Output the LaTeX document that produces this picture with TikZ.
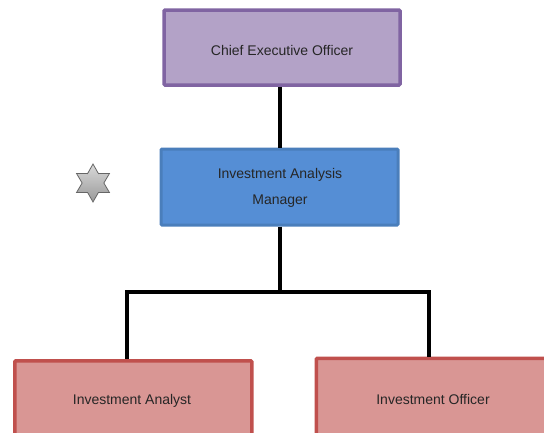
\documentclass[tikz,border=0pt]{standalone}
\usepackage{fontspec}
\setmainfont{Liberation Sans}
\usetikzlibrary{shapes.geometric}
\definecolor{ceofill}{HTML}{B3A2C7}
\definecolor{ceoline}{HTML}{8064A2}
\definecolor{mgrfill}{HTML}{558ED5}
\definecolor{mgrline}{HTML}{4A7EBB}
\definecolor{redfill}{HTML}{D99694}
\definecolor{redline}{HTML}{C0504D}
\tikzset{
  orgbox/.style={draw, line width=3.5pt, rounded corners=1pt, inner sep=0pt},
  ceobox/.style={orgbox, fill=ceofill, draw=ceoline, minimum width=236pt, minimum height=75pt},
  mgrbox/.style={orgbox, fill=mgrfill, draw=mgrline, line width=3pt, minimum width=237pt, minimum height=76pt},
  redbox/.style={orgbox, fill=redfill, draw=redline, minimum width=237pt, minimum height=90pt},
  label/.style={font=\fontsize{14}{26}\selectfont, text=black!85, align=center, inner sep=0pt},
  link/.style={draw=black, line width=4.5pt},
}
\begin{document}
\begin{tikzpicture}[x=1pt,y=1pt]
\useasboundingbox (0,0) rectangle (544,-432);
\clip (0,0) rectangle (544,-432);
\node[ceobox] (ceo) at (282,-47.5) {};
\node[mgrbox] (mgr) at (279.5,-187) {};
\node[redbox, anchor=north west] (ana) at (13,-359) {};
\node[redbox, anchor=north west] (off) at (314.5,-356.5) {};
\node[label] (ceot) at (282,-50) {Chief Executive Officer};
\node[label] (mgrt) at (280,-188) {Investment Analysis\\Manager};
\node[label] (anat) at (132,-401) {Investment Analyst};
\node[label] (offt) at (433,-399) {Investment Officer};
\coordinate (j) at (280,-292);
\coordinate (jl) at (127,-292);
\coordinate (jr) at (429,-292);
\path[link] (ceo.south -| 280,0) -- (mgr.north -| 280,0);
\path[link] (mgr.south -| 280,0) -- (j);
\path[link, line cap=rect] (jl) -- (jr);
\path[link] (jl) -- (jl |- ana.north);
\path[link] (jr) -- (jr |- off.north);
\node[star, star points=6, star point ratio=1.75, minimum size=38pt, inner sep=0pt, draw=gray!80!black, line width=0.8pt, top color=gray!30, bottom color=gray!80] (star) at (93,-183) {};
\end{tikzpicture}
\end{document}
